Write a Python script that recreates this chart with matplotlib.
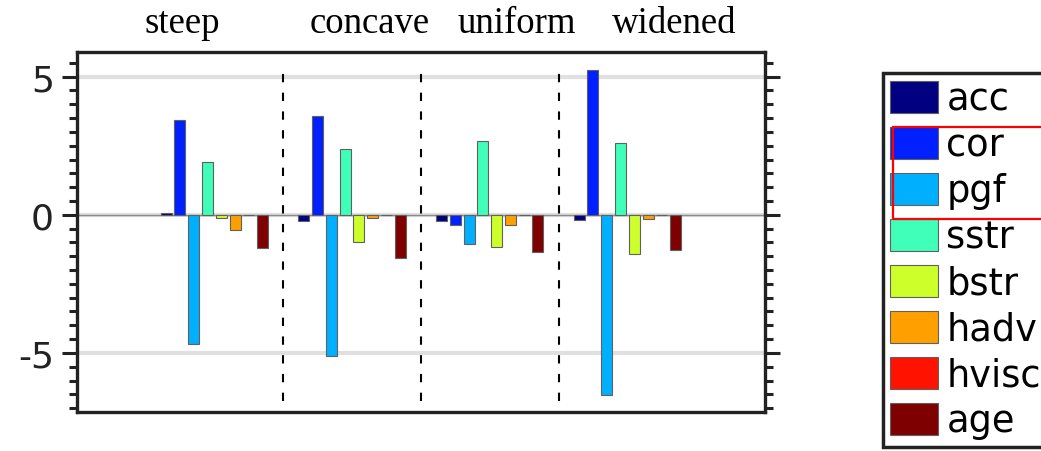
import matplotlib
matplotlib.use("Agg")
import matplotlib.pyplot as plt
import matplotlib.transforms as mtransforms
from matplotlib.patches import Rectangle
import numpy as np

plt.rcParams["font.family"] = ["DejaVu Sans"]

# ---- data ----
groups = ["steep", "concave", "uniform", "widened"]
terms = ["acc", "cor", "pgf", "sstr", "bstr", "hadv", "hvisc", "age"]
steep   = [0.07, 3.44, -4.66, 1.90, -0.11, -0.54, 0.0, -1.22]
concave = [-0.22, 3.59, -5.12, 2.38, -1.00, -0.10, 0.0, -1.56]
uniform = [-0.24, -0.37, -1.04, 2.66, -1.16, -0.38, 0.0, -1.36]
widened = [-0.20, 5.25, -6.53, 2.61, -1.42, -0.17, 0.0, -1.27]
values = [steep, concave, uniform, widened]
yticks = [-5, 0, 5]
ytick_labels = ["-5", "0", "5"]
title_x = [0.768, 2.13, 3.197, 4.34]

colors = ["#000080", "#0020ff", "#00b0ff", "#40ffb8",
          "#cdff2a", "#ffa000", "#ff1300", "#7f0000"]

fig = plt.figure(figsize=(10.41, 4.52), dpi=100)
ax = fig.add_axes([0.0737, 0.0856, 0.7612 - 0.0737 - 0.0263, 0.882 - 0.0856])

vals = np.array(values)
centers = np.arange(1, len(groups) + 1)
bw = 0.1
for i, t in enumerate(terms):
    ax.bar(centers + (i - 3.5) * bw, vals[:, i], width=0.08, color=colors[i],
           edgecolor="#606060", linewidth=0.8, label=t, zorder=3)

ax.set_xlim(0, 5)
ax.set_ylim(-7.15, 5.88)
ax.set_yticks(yticks)
ax.set_yticklabels(ytick_labels)
ax.set_yticks(np.arange(-7, 6, 0.5), minor=True)
ax.set_xticks([])
ax.yaxis.grid(True, which="major", color="#e0e0e0", linewidth=3, zorder=0)
ax.set_axisbelow(True)
ax.axhline(0, color="#8a8a8a", linewidth=1, zorder=2)

for xd in [1.5, 2.5, 3.5]:
    ax.vlines(xd, -6.75, 5.25, colors="black", linewidth=1.5,
              linestyles=(0, (4, 5)), zorder=4)

for s in ax.spines.values():
    s.set_linewidth(2.4)
    s.set_color("#222222")

ax.tick_params(axis="y", which="major", direction="out", length=11, width=2.2,
               color="#222222", left=True, right=True, labelsize=26, pad=5.5,
               labelcolor="#222222")
ax.tick_params(axis="y", which="minor", direction="out", length=5.8, width=2.2,
               color="#222222", left=True, right=True)

trans = mtransforms.blended_transform_factory(ax.transData, fig.transFigure)
for g, xx in zip(groups, title_x):
    fig.text(xx, 1 - 33 / 452, g, transform=trans, ha="center", va="baseline",
             fontsize=26.5, family="Liberation Serif")

leg = ax.legend(loc="upper left", bbox_to_anchor=(883 / 1041, 1 - 74 / 452),
                bbox_transform=fig.transFigure, fontsize=26.5, labelspacing=0.245,
                handlelength=1.3, handleheight=0.95, handletextpad=0.22,
                borderpad=0.2, borderaxespad=0, fancybox=False, framealpha=1)
leg.get_frame().set_edgecolor("#222222")
leg.get_frame().set_linewidth(2.5)

fig.patches.append(Rectangle((893 / 1041, 1 - 220 / 452), 0.2, (220 - 128) / 452,
                             transform=fig.transFigure, fill=False,
                             edgecolor="red", linewidth=1.6, zorder=10))

fig.savefig("out.png", dpi=100)
